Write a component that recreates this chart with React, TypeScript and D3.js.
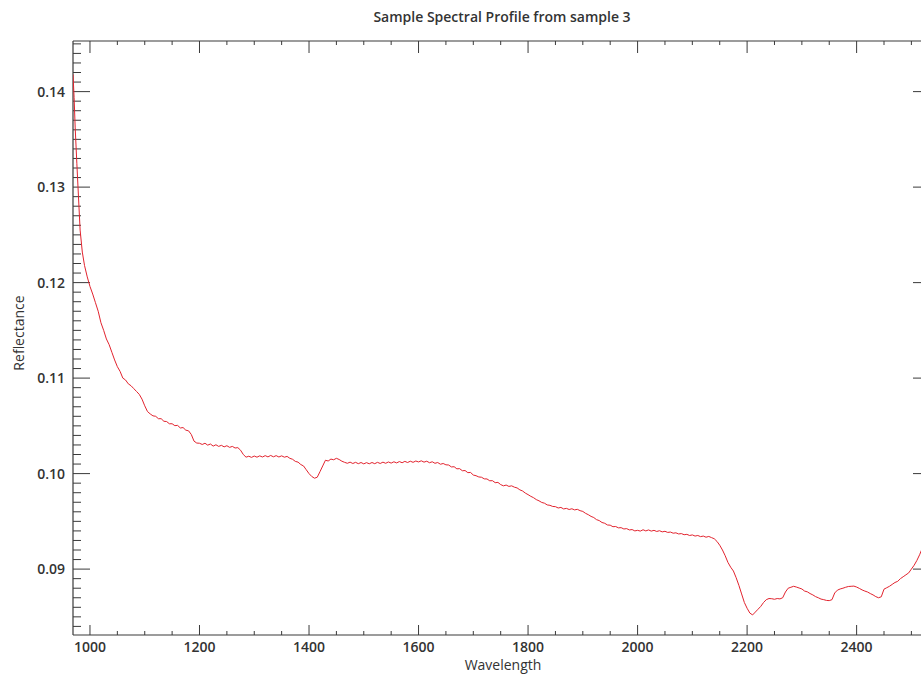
import React from "react";
import * as d3 from "d3";

// Sampling: a few dense bands at the steep short-wave end, then every 5 nm.
const wavelengths: number[] = [969, 971, 973, 976, 979, 982, 986, 990, 995, ...d3.range(1000, 2531, 5)];

const reflectance: number[] = [
  0.1418, 0.1394, 0.1362, 0.1325, 0.1290, 0.1255, 0.1232, 0.1218, 0.1206,
  // 1000-1045
  0.1196, 0.1188, 0.1179, 0.1170, 0.1158, 0.1150, 0.1141, 0.1135, 0.1127, 0.1119,
  // 1050-1095
  0.1112, 0.1107, 0.1100, 0.1098, 0.1094, 0.1092, 0.1089, 0.1086, 0.1083, 0.1078,
  // 1100-1145
  0.1071, 0.1065, 0.10625, 0.10605, 0.1060, 0.10575, 0.10575, 0.10548, 0.10545, 0.10522,
  // 1150-1195
  0.10522, 0.10502, 0.10505, 0.10478, 0.10482, 0.10455, 0.10448, 0.1041, 0.1034, 0.1032,
  // 1200-1245
  0.10318, 0.10305, 0.10318, 0.10298, 0.1031, 0.10288, 0.10302, 0.10285, 0.10296, 0.1028,
  // 1250-1295
  0.10292, 0.10275, 0.10285, 0.10268, 0.10272, 0.10245, 0.102, 0.10172, 0.10182, 0.1017,
  // 1300-1345
  0.10184, 0.10172, 0.10186, 0.10174, 0.10188, 0.10175, 0.1019, 0.10176, 0.10188, 0.10174,
  // 1350-1395
  0.10186, 0.10172, 0.1018, 0.1016, 0.1015, 0.10128, 0.1012, 0.10095, 0.1008, 0.1004,
  // 1400-1445
  0.1, 0.0997, 0.09952, 0.09962, 0.1002, 0.1008, 0.1014, 0.10132, 0.10152, 0.10145,
  // 1450-1495
  0.1016, 0.10148, 0.1013, 0.10118, 0.10108, 0.1012, 0.10106, 0.10118, 0.10104, 0.10116,
  // 1500-1545
  0.10102, 0.10115, 0.10103, 0.10116, 0.10104, 0.10118, 0.10106, 0.1012, 0.10108, 0.10122,
  // 1550-1595
  0.1011, 0.10124, 0.10112, 0.10126, 0.10114, 0.10128, 0.10116, 0.1013, 0.10118, 0.10132,
  // 1600-1645
  0.10122, 0.10134, 0.1012, 0.1013, 0.10114, 0.10124, 0.10108, 0.10116, 0.10098, 0.10106,
  // 1650-1695
  0.10092, 0.1009, 0.1007, 0.10072, 0.1005, 0.10052, 0.1003, 0.10032, 0.1001, 0.10012,
  // 1700-1745
  0.09985, 0.09978, 0.09965, 0.09962, 0.09945, 0.09944, 0.09925, 0.09926, 0.09905, 0.09908,
  // 1750-1795
  0.09885, 0.09872, 0.0988, 0.09866, 0.09872, 0.09858, 0.0985, 0.0983, 0.09818, 0.09796,
  // 1800-1845
  0.0978, 0.09762, 0.09748, 0.09728, 0.09715, 0.09698, 0.0969, 0.09672, 0.09668, 0.09656,
  // 1850-1895
  0.09654, 0.0964, 0.09646, 0.0963, 0.09636, 0.09624, 0.09632, 0.0962, 0.09626, 0.09612,
  // 1900-1945
  0.09604, 0.09584, 0.0957, 0.09552, 0.0954, 0.09518, 0.09508, 0.09488, 0.0948, 0.09462,
  // 1950-1995
  0.0946, 0.09444, 0.09446, 0.09432, 0.09434, 0.0942, 0.09424, 0.0941, 0.09414, 0.094,
  // 2000-2045
  0.09406, 0.09398, 0.09412, 0.094, 0.0941, 0.09398, 0.09406, 0.09394, 0.09402, 0.0939,
  // 2050-2095
  0.09396, 0.09384, 0.09388, 0.09376, 0.0938, 0.09368, 0.09372, 0.0936, 0.09364, 0.09352,
  // 2100-2145
  0.09358, 0.09346, 0.09352, 0.0934, 0.09346, 0.09334, 0.09342, 0.0933, 0.09318, 0.0929,
  // 2150-2195
  0.0925, 0.092, 0.0914, 0.0907, 0.0902, 0.0898, 0.0891, 0.0883, 0.0874, 0.0865,
  // 2200-2245
  0.0859, 0.0854, 0.0852, 0.0855, 0.0858, 0.0861, 0.0865, 0.0868, 0.08692, 0.0869,
  // 2250-2295
  0.08684, 0.08692, 0.08688, 0.087, 0.0876, 0.088, 0.0881, 0.0882, 0.08812, 0.08802,
  // 2300-2345
  0.08792, 0.0877, 0.08762, 0.08744, 0.0873, 0.08712, 0.087, 0.08686, 0.0868, 0.08672,
  // 2350-2395
  0.0867, 0.0868, 0.0875, 0.0878, 0.08792, 0.088, 0.0881, 0.08818, 0.0882, 0.08822,
  // 2400-2445
  0.08812, 0.08798, 0.08782, 0.0877, 0.0876, 0.08744, 0.0873, 0.08712, 0.087, 0.0871,
  // 2450-2495
  0.0879, 0.08805, 0.0882, 0.0884, 0.0886, 0.08872, 0.089, 0.0892, 0.0894, 0.0896,
  // 2500-2530
  0.09, 0.0904, 0.0909, 0.0915, 0.0922, 0.0928, 0.0934,
];

const xMajorTicks: number[] = [1000, 1200, 1400, 1600, 1800, 2000, 2200, 2400];
const yMajorTicks: number[] = [0.09, 0.1, 0.11, 0.12, 0.13, 0.14];
const yTickLabels: string[] = ["0.09", "0.10", "0.11", "0.12", "0.13", "0.14"];

const title = "Sample Spectral Profile from sample 3";
const xTitle = "Wavelength";
const yTitle = "Reflectance";

const W = 921;
const H = 674;
const plot = { left: 73, right: 930, top: 41, bottom: 635 };
const axisColor = "#3a3a3a";
const textColor = "#333";
const font = "'Open Sans', 'DejaVu Sans', sans-serif";

export default function App() {
  const x = d3.scaleLinear().domain([969, 2534]).range([plot.left, plot.right]);
  const y = d3.scaleLinear().domain([0.0831, 0.1453]).range([plot.bottom, plot.top]);

  const points = d3.zip(wavelengths, reflectance) as [number, number][];
  const path = d3
    .line<[number, number]>()
    .x((d) => x(d[0]))
    .y((d) => y(d[1]))(points) as string;

  const xMinor = d3.range(1000, 2534, 50).filter((v) => !xMajorTicks.includes(v));
  const yMinor = d3
    .range(84, 146)
    .map((v) => v / 1000)
    .filter((v) => !yMajorTicks.some((m) => Math.abs(m - v) < 1e-9));

  return (
    <svg
      width={W}
      height={H}
      style={{ position: "absolute", left: 0, top: 0, background: "#fff" }}
      fontFamily={font}
    >
      <defs>
        <clipPath id="plot-area">
          <rect x={plot.left} y={plot.top} width={plot.right - plot.left} height={plot.bottom - plot.top} />
        </clipPath>
      </defs>
      <rect x={0} y={0} width={W} height={H} fill="#fff" />

      {/* title */}
      <text x={502} y={22} textAnchor="middle" fontSize={14} fontWeight={600} fill={textColor}>
        {title}
      </text>

      {/* frame */}
      <g stroke={axisColor} strokeWidth={1.2} fill="none">
        <line x1={plot.left} x2={plot.right} y1={plot.top} y2={plot.top} />
        <line x1={plot.left} x2={plot.right} y1={plot.bottom} y2={plot.bottom} />
        <line x1={plot.left} x2={plot.left} y1={plot.top} y2={plot.bottom} />
        <line x1={plot.right} x2={plot.right} y1={plot.top} y2={plot.bottom} />
      </g>

      {/* x ticks: bottom and top, pointing inward */}
      <g stroke={axisColor} strokeWidth={1}>
        {xMajorTicks.map((v) => (
          <g key={"xM" + v}>
            <line x1={x(v)} x2={x(v)} y1={plot.bottom} y2={plot.bottom - 10} />
            <line x1={x(v)} x2={x(v)} y1={plot.top} y2={plot.top + 12} />
          </g>
        ))}
        {xMinor.map((v) => (
          <g key={"xm" + v}>
            <line x1={x(v)} x2={x(v)} y1={plot.bottom} y2={plot.bottom - 4} />
            <line x1={x(v)} x2={x(v)} y1={plot.top} y2={plot.top + 4} />
          </g>
        ))}
      </g>

      {/* y ticks: left with minors, right majors only */}
      <g stroke={axisColor} strokeWidth={1}>
        {yMajorTicks.map((v) => (
          <g key={"yM" + v}>
            <line x1={plot.left} x2={plot.left + 17} y1={y(v)} y2={y(v)} />
            <line x1={plot.right} x2={plot.right - 17} y1={y(v)} y2={y(v)} />
          </g>
        ))}
        {yMinor.map((v) => (
          <line key={"ym" + v} x1={plot.left} x2={plot.left + 8} y1={y(v)} y2={y(v)} />
        ))}
      </g>

      {/* tick labels */}
      <g fontSize={14} fontWeight={600} fill={textColor}>
        {xMajorTicks.map((v) => (
          <text key={"xl" + v} x={x(v)} y={652} textAnchor="middle">
            {String(v)}
          </text>
        ))}
        {yMajorTicks.map((v, i) => (
          <text key={"yl" + v} x={65} y={y(v)} dy="0.35em" textAnchor="end">
            {yTickLabels[i]}
          </text>
        ))}
      </g>

      {/* axis titles */}
      <text x={503} y={670} textAnchor="middle" fontSize={14} fill={textColor}>
        {xTitle}
      </text>
      <text
        transform={`translate(24, 333) rotate(-90)`}
        textAnchor="middle"
        fontSize={14}
        fill={textColor}
      >
        {yTitle}
      </text>

      {/* spectrum */}
      <path d={path} fill="none" stroke="#e2232e" strokeWidth={1} clipPath="url(#plot-area)" />
    </svg>
  );
}
